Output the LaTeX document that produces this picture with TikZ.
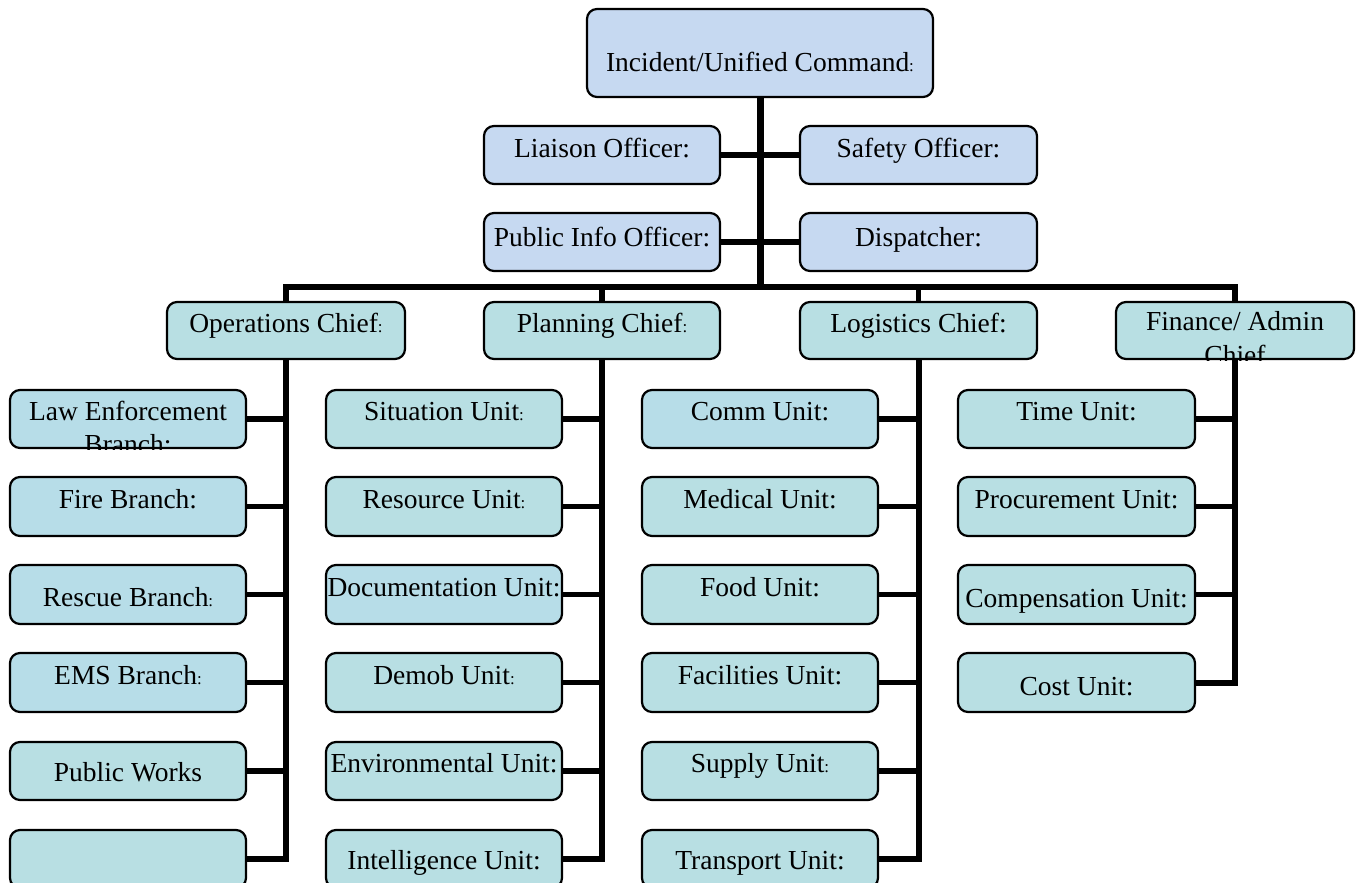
\documentclass[tikz,border=0pt]{standalone}
\usepackage{fontspec}
\setmainfont{Liberation Serif}
\definecolor{cmdblue}{RGB}{198,217,241}
\definecolor{tealg}{RGB}{184,223,227}
\definecolor{tealb}{RGB}{183,221,232}
\newcommand{\smcolon}{{\fontsize{17}{20}\selectfont :}}
\newcommand{\bx}[6]{\node[box,fill=#6,minimum width=#4pt,minimum height=#5pt] (#1) at (#2,#3) {};}
\newcommand{\lb}[3]{\node[lbl] (#1-t) at ([yshift=-#2pt]#1.center) {#3};}
\begin{document}
\begin{tikzpicture}[x=1pt,y=-1pt,
  box/.style={draw=black, line width=2.2pt, rounded corners=10pt, inner sep=0pt},
  lbl/.style={anchor=base, inner sep=0pt, font=\fontsize{27.5}{32}\selectfont},
  trunk/.style={line width=7pt},
  conn/.style={line width=5.5pt},
  col/.style={line width=6pt}]
\clip (0,0) rectangle (1360,883);
% command staff
\bx{inc}{760}{53}{346}{88}{cmdblue}
\bx{liaison}{602}{155}{236}{58}{cmdblue}
\bx{safety}{918.5}{155}{237}{58}{cmdblue}
\bx{pio}{602}{242}{236}{58}{cmdblue}
\bx{disp}{918.5}{242}{237}{58}{cmdblue}
% chiefs
\bx{ops}{286}{330.5}{238}{57}{tealg}
\bx{plan}{602}{330.5}{236}{57}{tealg}
\bx{log}{918.5}{330.5}{237}{57}{tealg}
\bx{fin}{1235}{330.5}{238}{57}{tealg}
% operations column
\bx{o1}{128}{419}{236}{58}{tealb}
\bx{o2}{128}{506.5}{236}{59}{tealb}
\bx{o3}{128}{594.5}{236}{59}{tealb}
\bx{o4}{128}{682.5}{236}{59}{tealb}
\bx{o5}{128}{771}{236}{58}{tealg}
\bx{o6}{128}{859}{236}{58}{tealg}
% planning column
\bx{p1}{444}{419}{236}{58}{tealg}
\bx{p2}{444}{506.5}{236}{59}{tealg}
\bx{p3}{444}{594.5}{236}{59}{tealb}
\bx{p4}{444}{682.5}{236}{59}{tealg}
\bx{p5}{444}{771}{236}{58}{tealg}
\bx{p6}{444}{859}{236}{58}{tealg}
% logistics column
\bx{l1}{760}{419}{236}{58}{tealb}
\bx{l2}{760}{506.5}{236}{59}{tealg}
\bx{l3}{760}{594.5}{236}{59}{tealg}
\bx{l4}{760}{682.5}{236}{59}{tealg}
\bx{l5}{760}{771}{236}{58}{tealg}
\bx{l6}{760}{859}{236}{58}{tealg}
% finance column
\bx{f1}{1076.5}{419}{237}{58}{tealg}
\bx{f2}{1076.5}{506.5}{237}{59}{tealg}
\bx{f3}{1076.5}{594.5}{237}{59}{tealg}
\bx{f4}{1076.5}{682.5}{237}{59}{tealg}
% labels
\lb{inc}{18}{Incident/Unified Command\smcolon}
\lb{liaison}{2}{Liaison Officer:}
\lb{safety}{2}{Safety Officer:}
\lb{pio}{4}{Public Info Officer:}
\lb{disp}{4}{Dispatcher:}
\lb{ops}{1.5}{Operations Chief\smcolon}
\lb{plan}{1.5}{Planning Chief\smcolon}
\lb{log}{1.5}{Logistics Chief:}
\begin{scope}
\clip[rounded corners=10pt] (fin.south west) rectangle (fin.north east);
\node[lbl] (fin-t) at ([yshift=0pt]fin.center) {Finance/ Admin};
\node[lbl] (fin-t2) at ([yshift=-34pt]fin.center) {Chief};
\end{scope}
\begin{scope}
\clip[rounded corners=10pt] (o1.south west) rectangle (o1.north east);
\node[lbl] (o1-t) at ([yshift=-1pt]o1.center) {Law Enforcement};
\node[lbl] (o1-t2) at ([yshift=-34pt]o1.center) {Branch:};
\end{scope}
\lb{o2}{1.5}{Fire Branch:}
\lb{o3}{12}{Rescue Branch\smcolon}
\lb{o4}{1.5}{EMS Branch\smcolon}
\lb{o5}{10}{Public Works}
\lb{p1}{1}{Situation Unit\smcolon}
\lb{p2}{1.5}{Resource Unit\smcolon}
\lb{p3}{1.5}{Documentation Unit:}
\lb{p4}{1.5}{Demob Unit\smcolon}
\lb{p5}{1}{Environmental Unit:}
\lb{p6}{10}{Intelligence Unit:}
\lb{l1}{1}{Comm Unit:}
\lb{l2}{1.5}{Medical Unit:}
\lb{l3}{1.5}{Food Unit:}
\lb{l4}{1.5}{Facilities Unit:}
\lb{l5}{1}{Supply Unit\smcolon}
\lb{l6}{10}{Transport Unit:}
\lb{f1}{1}{Time Unit:}
\lb{f2}{1.5}{Procurement Unit:}
\lb{f3}{13}{Compensation Unit:}
\lb{f4}{13}{Cost Unit:}
% connectors
\coordinate (bus) at (760,287);
\draw[trunk] (inc.south) -- (bus);
\draw[conn] (liaison) -- (safety);
\draw[conn] (pio) -- (disp);
\draw[conn] (ops.north) |- (bus) -| (fin.north);
\draw[conn] (plan.north) -- (plan.north |- bus);
\draw[conn] (log.north) -- (log.north |- bus);
\draw[col] (ops.south) |- (o6.east);
\draw[col] (plan.south) |- (p6.east);
\draw[col] (log.south) |- (l6.east);
\draw[col] (fin.south) |- (f4.east);
\foreach \i in {1,...,5} {
  \draw[conn] (o\i.east) -- (o\i.east -| ops.south);
  \draw[conn] (p\i.east) -- (p\i.east -| plan.south);
  \draw[conn] (l\i.east) -- (l\i.east -| log.south);
}
\foreach \i in {1,2,3} {
  \draw[conn] (f\i.east) -- (f\i.east -| fin.south);
}
\end{tikzpicture}
\end{document}
